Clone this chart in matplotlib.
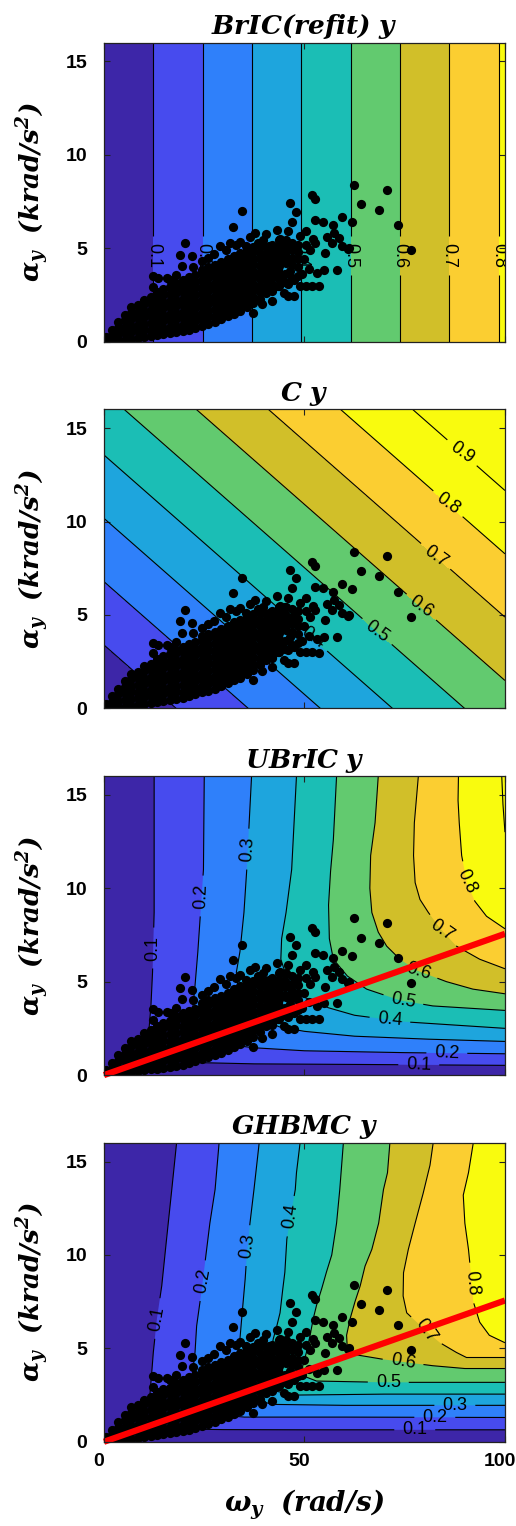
import numpy as np
import matplotlib
matplotlib.use("Agg")
import matplotlib.pyplot as plt
from matplotlib.contour import ContourSet
from matplotlib.transforms import ScaledTranslation

plt.rcParams['mathtext.fontset'] = 'dejavuserif'
plt.rcParams['font.family'] = ['Liberation Sans', 'DejaVu Sans']

# ---------------- data ----------------
titles = [r'$\mathbfit{BrIC(refit)\ y}$', r'$\mathbfit{C\ y}$',
          r'$\mathbfit{UBrIC\ y}$', r'$\mathbfit{GHBMC\ y}$']
xlabel = r'$\mathbfit{\omega_y\ \ (rad/s)}$'
ylabel = r'$\mathbfit{\alpha_y\ \ (krad/s^2)}$'

levels = [0.1, 0.2, 0.3, 0.4, 0.5, 0.6, 0.7, 0.8, 0.9]
fill_levels = [0.0, 0.1, 0.2, 0.3, 0.4, 0.5, 0.6, 0.7, 0.8, 0.9, 1.1]
band_colors = ['#3D26A8', '#474BEE', '#2F80FA', '#1EA5DD', '#1BBEB5',
               '#62CA6F', '#D1BF29', '#FBCE31', '#F9FB0E', '#F9FB0E']

# grid surfaces (panel 1 and 2): omega, alpha axes and values
grid_w = [0, 100]
grid_a = [0, 16]
bric_z = [[0.0, 0.813], [0.0, 0.813]]
c_z = [[0.0, 0.556], [0.472, 1.028]]

# UBrIC contour traces (omega, alpha) per level, from top edge to right edge
ubric_w = [
    [12.5, 12.5, 12.1, 11.7, 11.2, 11.0, 11.4, 12.5, 15, 19, 25, 37.5, 62, 100],
    [25, 24.8, 24, 23.4, 22.7, 22.2, 22.5, 25, 31, 37.5, 50, 75, 100],
    [36.8, 35.6, 34.9, 33.9, 33.0, 33.7, 37.5, 43.75, 50, 62.5, 81, 100],
    [48, 46.8, 45.4, 44.3, 44.1, 45, 50, 56, 62.5, 75, 100],
    [58, 57.2, 56.5, 56, 56.2, 57.2, 60.7, 65.5, 73.8, 82, 100],
    [68.4, 67.6, 66.5, 66.3, 66.8, 68.4, 70.5, 73.8, 78, 85.4, 92, 100],
    [78.4, 77.4, 77.2, 77.6, 78.8, 80.9, 84, 87.9, 93.7, 100],
    [88.4, 88.3, 88.6, 89.2, 90.5, 92.5, 95.4, 100],
    [99.2, 99.5, 100]]
ubric_a = [
    [16, 8.7, 5.5, 3.7, 2.4, 1.8, 1.3, 1.04, 0.83, 0.73, 0.66, 0.6, 0.57, 0.52],
    [16, 11, 8.5, 6.6, 4.8, 3.7, 2.8, 2.08, 1.63, 1.46, 1.3, 1.2, 1.14],
    [16, 11, 8.7, 6.6, 5.5, 4.2, 3.12, 2.58, 2.34, 2.08, 1.92, 1.8],
    [16, 11, 8.7, 7.3, 6.2, 5.6, 4.16, 3.6, 3.2, 2.85, 2.5],
    [16, 12.6, 10.9, 9.1, 7.3, 6.2, 5.3, 4.6, 4.0, 3.7, 3.46],
    [16, 13.5, 11.75, 10, 8.7, 7.65, 6.9, 6.2, 5.6, 5.0, 4.6, 4.35],
    [16, 13.5, 11.75, 10.3, 9.4, 8.7, 7.8, 6.9, 6.2, 5.69],
    [16, 14.7, 13.5, 11.75, 10.3, 9.3, 8.5, 7.83],
    [16, 14.5, 13]]

# GHBMC contour traces
ghbmc_w = [
    [18.1, 16.9, 15.6, 14.4, 13.2, 12.3, 11.9, 11.5, 11.2, 11.5, 13, 16, 20, 30, 50, 100],
    [28.7, 27.7, 26.4, 25.4, 24.4, 23.1, 22.7, 22.1, 22.0, 23, 26, 35, 60, 100],
    [38.7, 37.4, 36.4, 35.6, 35.2, 34.5, 33.9, 33.3, 33.3, 34.5, 37, 42, 60, 100],
    [48.9, 48, 47.7, 46.5, 45.6, 45.1, 44.6, 43.9, 43.1, 42.2, 41.5, 41.5, 43, 48, 70, 100],
    [59.7, 58.8, 58, 56.8, 55.5, 54.3, 53, 52.2, 51.4, 50.5, 49.5, 50, 53, 70, 100],
    [71.3, 70.7, 69.7, 68.5, 66.8, 65.1, 63.9, 62.6, 61.4, 60.5, 60.7, 63, 70, 82, 90, 100],
    [82.1, 81.3, 79.6, 77.6, 75.9, 74.7, 74.6, 75.5, 78, 81, 83.8, 87.9, 90.4, 100],
    [92.1, 90.9, 89.6, 90, 90.9, 91.5, 92.1, 93.7, 96.1, 100]]
ghbmc_a = [
    [16, 13.5, 10.85, 8.35, 6.6, 4.8, 3.7, 2.65, 1.8, 1.2, 0.9, 0.75, 0.68, 0.65, 0.64, 0.64],
    [16, 13.5, 11.7, 9.96, 8.2, 6.2, 4.8, 3.7, 3.0, 2.0, 1.5, 1.32, 1.32, 1.3],
    [16, 13.5, 11.7, 9.96, 8.7, 7.0, 5.5, 4.6, 4.0, 3.0, 2.3, 2.0, 1.95, 1.95],
    [16, 14.4, 13.5, 12, 10.85, 9.07, 8.2, 6.9, 6.2, 5.5, 4.5, 3.3, 2.7, 2.5, 2.55, 2.55],
    [16, 13.5, 11.7, 10, 9.1, 8.2, 7.3, 6.6, 5.7, 4.8, 4.0, 3.5, 3.25, 3.18, 3.18],
    [16, 14.4, 13.5, 11.7, 10.3, 9.4, 8.35, 7.5, 6.6, 5.7, 4.9, 4.65, 4.4, 4.07, 3.92, 3.92],
    [16, 14.8, 13.3, 11.7, 10.3, 9.05, 7.8, 6.9, 6.4, 5.8, 5.3, 4.78, 4.51, 4.51],
    [16, 14.4, 13.2, 11.7, 10.3, 9, 7.5, 6.4, 5.7, 5.3]]

# contour label positions and rotations
bric_lab = [(12.4, 4.6), (24.6, 4.6), (37.0, 4.6), (49.4, 4.6), (61.5, 4.6),
            (73.8, 4.6), (86.1, 4.6), (98.4, 4.6)]
bric_rot = [-90] * 8
c_lab = [(90.4, 13.95), (87.1, 11.27), (83.8, 8.4), (80.0, 5.63), (69.2, 4.38), (53.0, 4.0)]
c_rot = [-36, -36, -36, -36, -36, -36]
ubric_lab = [(12.2, 6.8), (23.3, 9.6), (35.3, 12.1), (91.3, 10.4), (83.8, 7.6),
             (78.4, 5.6), (74.6, 4.0), (71.3, 2.95), (85.5, 1.18), (78.5, 0.55)]
ubric_rot = [90, 88, 86, -65, -35, -17, -10, -5, -3, -2]
ghbmc_lab = [(13.2, 6.6), (23.5, 8.65), (35.8, 10.5), (45.8, 12.1), (92.0, 8.5),
             (80.9, 6.07), (74.6, 4.3), (70.9, 3.18), (87.5, 1.95), (82.5, 1.3), (77.5, 0.64)]
ghbmc_rot = [80, 80, 82, 82, -85, -55, -10, 0, 0, 0, 0]

# red reference line (omega, alpha)
red_w = [0, 100]
red_a = [0, 7.56]

# dense part of the data cloud: columns of omega with their alpha values
cloud_cols = [0.4, 2.0, 3.6, 5.2, 6.8, 8.4, 10.0, 11.6, 13.2, 14.8, 16.4, 18.0, 19.6,
              21.2, 22.8, 24.4, 26.0, 27.6, 29.2, 30.8, 32.4, 34.0, 35.6, 37.2, 38.8, 40.4,
              42.0, 43.6, 45.2, 46.8, 48.4]
cloud_col_alpha = [
    [0.05, 0.25],
    [0.05, 0.35, 0.65],
    [0.1, 0.4, 0.75, 1.05],
    [0.1, 0.45, 0.8, 1.15, 1.45],
    [0.15, 0.5, 0.85, 1.2, 1.55, 1.85],
    [0.2, 0.55, 0.9, 1.25, 1.6, 1.95],
    [0.25, 0.6, 0.95, 1.3, 1.65, 2.0, 2.25],
    [0.3, 0.65, 1.0, 1.35, 1.7, 2.05, 2.4],
    [0.35, 0.7, 1.05, 1.4, 1.75, 2.1, 2.45, 2.65],
    [0.4, 0.75, 1.1, 1.45, 1.8, 2.15, 2.5, 2.8],
    [0.45, 0.8, 1.15, 1.5, 1.85, 2.2, 2.55, 2.9],
    [0.5, 0.85, 1.2, 1.55, 1.9, 2.25, 2.6, 2.95, 3.15],
    [0.55, 0.9, 1.25, 1.6, 1.95, 2.3, 2.65, 3.0, 3.3],
    [0.65, 1.0, 1.35, 1.7, 2.05, 2.4, 2.75, 3.1, 3.45],
    [0.75, 1.1, 1.45, 1.8, 2.15, 2.5, 2.85, 3.2, 3.55],
    [0.85, 1.2, 1.55, 1.9, 2.25, 2.6, 2.95, 3.3, 3.65, 3.85],
    [0.95, 1.3, 1.65, 2.0, 2.35, 2.7, 3.05, 3.4, 3.75, 4.0],
    [1.05, 1.4, 1.75, 2.1, 2.45, 2.8, 3.15, 3.5, 3.85, 4.1],
    [1.2, 1.55, 1.9, 2.25, 2.6, 2.95, 3.3, 3.65, 4.0, 4.25],
    [1.35, 1.7, 2.05, 2.4, 2.75, 3.1, 3.45, 3.8, 4.15, 4.4],
    [1.5, 1.85, 2.2, 2.55, 2.9, 3.25, 3.6, 3.95, 4.3, 4.6],
    [1.65, 2.0, 2.35, 2.7, 3.05, 3.4, 3.75, 4.1, 4.45, 4.75],
    [1.85, 2.2, 2.55, 2.9, 3.25, 3.6, 3.95, 4.3, 4.65, 4.9],
    [2.05, 2.4, 2.75, 3.1, 3.45, 3.8, 4.15, 4.5, 4.85, 5.05],
    [2.3, 2.65, 3.0, 3.35, 3.7, 4.05, 4.4, 4.75, 5.1],
    [2.6, 2.95, 3.3, 3.65, 4.0, 4.35, 4.7, 5.05],
    [2.75, 3.1, 3.45, 3.8, 4.15, 4.5, 4.85, 5.2],
    [3.0, 3.35, 3.7, 4.05, 4.4, 4.75, 5.1, 5.45],
    [3.2, 3.6, 4.3, 4.7, 5.05, 5.4],
    [3.4, 4.1, 4.9, 5.3],
    [3.5, 4.4, 5.2]]

# sparse points and outliers
sparse_w = [12.3, 13.5, 15.6, 12.3, 18.0, 19.4, 22.1, 19.0, 21.9, 20.2, 16.5, 24.5, 26.0,
            27.5, 28.9, 30.5, 31.5, 32.2, 34.3, 33.0, 34.0, 35.5, 36.5, 37.6, 38.5, 39.7,
            40.5, 41.2, 42.2, 43.1, 44.0, 45.5, 46.0, 46.8, 47.6, 48.9, 48.0, 46.4,
            40.5, 40.5, 40.5, 41.5, 41.5, 42.0, 42.5, 42.5, 43.5, 43.5, 44.0, 44.5, 45.0,
            45.5, 46.0, 46.5, 47.0, 47.5, 47.5, 48.5, 48.5, 49.0, 49.5, 50.0, 50.3, 50.5,
            50.5, 51.0, 51.4, 51.8, 52.0, 52.6, 52.6, 53.0, 53.6, 54.5, 54.9, 55.1, 55.5,
            56.8, 57.2, 57.4, 58.0, 58.7, 59.3, 60.8, 61.8, 59.4, 61.2, 45.8, 37.2, 39.5,
            42.0, 62.4, 70.5, 64.2, 68.6, 73.2, 76.6, 51.8, 52.6]
sparse_a = [3.52, 3.39, 3.39, 2.95, 3.57, 4.05, 4.02, 4.65, 4.56, 5.27, 3.3, 4.3, 4.5,
            4.7, 5.13, 4.9, 5.3, 6.16, 6.97, 5.2, 5.35, 5.1, 5.6, 5.8, 5.3, 5.45,
            5.75, 5.1, 4.9, 6.0, 5.5, 5.45, 5.9, 6.43, 5.1, 5.63, 6.96, 7.41,
            2.9, 3.6, 4.3, 3.2, 4.0, 2.7, 3.6, 4.4, 3.0, 3.9, 4.7, 3.4, 2.6,
            4.2, 3.1, 3.8, 4.5, 2.45, 3.3, 4.0, 4.8, 3.0, 3.6, 4.4, 3.0, 5.2,
            5.9, 3.9, 4.9, 3.0, 5.5, 6.52, 5.27, 3.7, 2.98, 6.43, 3.84, 4.74, 5.6,
            5.27, 6.25, 5.8, 3.84, 5.54, 5.13, 4.95, 6.39, 6.66, 5.0, 2.45, 1.52, 2.0,
            2.2, 8.39, 8.13, 7.36, 7.06, 6.25, 4.91, 7.86, 7.64]

# ---------------- figure ----------------
pts_w, pts_a = [], []
for w, alist in zip(cloud_cols, cloud_col_alpha):
    for a in alist:
        pts_w.append(w)
        pts_a.append(a)
pts_w += sparse_w
pts_a += sparse_a

fig = plt.figure(figsize=(5.16, 15.26), dpi=100)
left, width, height = 0.2016, 0.777, 0.1959
bottoms = [0.7761, 0.5358, 0.2955, 0.0552]

XMAX, YMAX = 100, 16


def style_axes(ax, show_x):
    ax.set_xlim(0, XMAX)
    ax.set_ylim(0, YMAX)
    ax.set_xticks([0, 50, 100])
    ax.set_yticks([0, 5, 10, 15])
    ax.tick_params(direction='in', length=4, width=0.8, top=True, right=True,
                   labelsize=14, color='#222222')
    ax.tick_params(axis='y', pad=12)
    ax.tick_params(axis='x', pad=8)
    for lab in ax.get_xticklabels() + ax.get_yticklabels():
        lab.set_fontweight('bold')
    if not show_x:
        ax.set_xticklabels([])
    else:
        off = ScaledTranslation(-5 / 100, 0, fig.dpi_scale_trans)
        for lab in ax.xaxis.get_majorticklabels():
            lab.set_transform(lab.get_transform() + off)
    for s in ax.spines.values():
        s.set_linewidth(0.9)
        s.set_color('#222222')
        s.set_zorder(10)
    ax.set_ylabel(ylabel, fontsize=19)
    ax.yaxis.set_label_coords(-0.13, 0.5)


def fill_traces(ax, tw, ta):
    ax.add_patch(plt.Rectangle((0, 0), XMAX, YMAX, color=band_colors[0], zorder=0.5, lw=0))
    for k, (w, a) in enumerate(zip(tw, ta)):
        poly = list(zip(w, a)) + [(XMAX, YMAX)]
        ax.fill([p[0] for p in poly], [p[1] for p in poly], color=band_colors[k + 1],
                lw=0, zorder=0.6 + 0.01 * k)


def add_labels(ax, cs, pos, rot):
    texts = ax.clabel(cs, inline=True, inline_spacing=7, fontsize=13, fmt='%.1f',
                      manual=pos)
    for t, r in zip(texts, rot):
        t.set_rotation(r)


for i in range(4):
    ax = fig.add_axes([left, bottoms[i], width, height])
    if i in (0, 1):
        Z = np.array(bric_z if i == 0 else c_z)
        ax.contourf(grid_w, grid_a, Z, levels=fill_levels, colors=band_colors, zorder=0.5)
        lv = [l for l in levels if l < Z.max()]
        cs = ax.contour(grid_w, grid_a, Z, levels=lv, colors='k', linewidths=0.8)
        if i == 0:
            add_labels(ax, cs, bric_lab, bric_rot)
        else:
            add_labels(ax, cs, c_lab, c_rot)
    else:
        tw, ta = (ubric_w, ubric_a) if i == 2 else (ghbmc_w, ghbmc_a)
        fill_traces(ax, tw, ta)
        segs = [[np.column_stack([w, a])] for w, a in zip(tw, ta)]
        cs = ContourSet(ax, levels[:len(segs)], segs, colors='k', linewidths=0.8)
        if i == 2:
            add_labels(ax, cs, ubric_lab, ubric_rot)
        else:
            add_labels(ax, cs, ghbmc_lab, ghbmc_rot)

    ax.scatter(pts_w, pts_a, s=44, color='black', linewidths=0, zorder=5)
    if i >= 2:
        ax.plot(red_w, red_a, color='#FF0000', lw=4.5, solid_capstyle='butt',
                zorder=6, clip_on=False)
    ax.set_title(titles[i], fontsize=19, pad=6)
    style_axes(ax, i == 3)
    if i == 3:
        ax.set_xlabel(xlabel, fontsize=20)
        ax.xaxis.set_label_coords(0.5, -0.155)

fig.savefig('out.png', dpi=100)
